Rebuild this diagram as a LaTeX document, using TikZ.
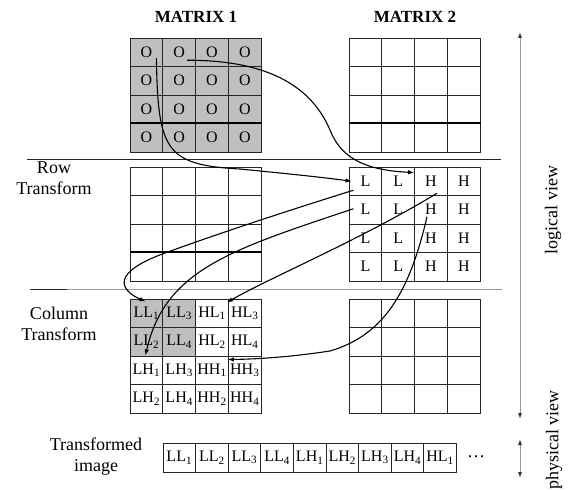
\documentclass[tikz,border=0pt]{standalone}
\usepackage{fontspec}
\setmainfont{Liberation Serif}
\usetikzlibrary{arrows.meta, positioning, calc}

\begin{document}
\begin{tikzpicture}[x=1pt, y=-1pt,
    cell/.style={draw=black!85, line width=0.9pt, minimum width=32.8pt, minimum height=28.5pt, inner sep=0pt, font=\fontsize{16}{16}\selectfont},
    dark/.style={cell, fill=black!25},
    slot/.style={cell, minimum width=32.6pt, minimum height=29pt},
    lbl/.style={align=center, font=\fontsize{18}{21}\selectfont},
    title/.style={font=\fontsize{17}{20}\selectfont\bfseries},
    flow/.style={-{Latex[length=6pt,width=4.5pt]}, line width=1.1pt},
    axis/.style={{Latex[length=6pt,width=4pt,color=black!80]}-{Latex[length=6pt,width=4pt,color=black!80]}, draw=black!40, line width=1pt}]
    \useasboundingbox (0,0) rectangle (573,492);

    % titles
    \node[title] (t1) at (196,17) {MATRIX 1};
    \node[title] (t2) at (415,17) {MATRIX 2};

    % the four empty / O grids
    \foreach \r in {1,...,4}
      \foreach \c in {1,...,4} {
        \node[dark] (tA-\r-\c) at ({146.4+32.8*(\c-1)}, {52.25+28.5*(\r-1)}) {O};
        \node[cell] (tB-\r-\c) at ({365.4+32.8*(\c-1)}, {52.25+28.5*(\r-1)}) {};
        \node[cell] (rA-\r-\c) at ({146.4+32.8*(\c-1)}, {181.25+28.5*(\r-1)}) {};
        \node[cell] (cB-\r-\c) at ({365.4+32.8*(\c-1)}, {313.25+28.5*(\r-1)}) {};
      }

    % row transform result
    \foreach \r in {1,...,4}
      \foreach \c/\t in {1/L, 2/L, 3/H, 4/H}
        \node[cell] (rB-\r-\c) at ({365.4+32.8*(\c-1)}, {181.25+28.5*(\r-1)}) {\t};

    % column transform result
    \foreach \r/\p/\q/\i/\j/\f in {1/LL/HL/1/3/black!25, 2/LL/HL/2/4/black!25, 3/LH/HH/1/3/white, 4/LH/HH/2/4/white} {
        \node[cell, fill=\f] (cA-\r-1) at (146.4, {313.25+28.5*(\r-1)}) {\p\textsubscript{\i}};
        \node[cell, fill=\f] (cA-\r-2) at (179.2, {313.25+28.5*(\r-1)}) {\p\textsubscript{\j}};
        \node[cell] (cA-\r-3) at (212.0, {313.25+28.5*(\r-1)}) {\q\textsubscript{\i}};
        \node[cell] (cA-\r-4) at (244.8, {313.25+28.5*(\r-1)}) {\q\textsubscript{\j}};
    }

    % thick row borders
    \draw[line width=2pt] (tA-4-1.north west) -- (tA-4-4.north east);
    \draw[line width=2pt] (tB-4-1.north west) -- (tB-4-4.north east);
    \draw[line width=2pt] (rA-4-1.north west) -- (rA-4-4.north east);

    % transformed image strip
    \foreach \p/\k [count=\i] in {LL/1, LL/2, LL/3, LL/4, LH/1, LH/2, LH/3, LH/4, HL/1}
        \node[slot] (s-\i) at ({179.3+32.6*(\i-1)}, 457.5) {\p\textsubscript{\k}};
    \node[lbl] (dots) at (476,457) {\dots};

    % separators
    \draw[black!85, line width=0.9pt] (27,159) -- (501,159);
    \draw[black!40, line width=1pt] (30,289) -- (502,289);
    \draw[black!85, line width=1pt] (30,289) -- (67,289);

    % side labels
    \node[lbl] (rowlbl) at (54,178) {Row\\Transform};
    \node[lbl] (collbl) at (59,324) {Column\\Transform};
    \node[lbl] (imglbl) at (96,457) {Transformed\\image};

    % views
    \coordinate (lt) at (520,32);
    \coordinate (lb) at (520,419);
    \coordinate (pt) at (520,439);
    \coordinate (pb) at (520,478);
    \draw[axis] (lt) -- (lb);
    \draw[axis] (pt) -- (pb);
    \node[lbl, rotate=90] (logv) at (553,210) {logical view};
    \node[lbl, rotate=90] (physv) at (554,440) {physical view};

    % data movement
    \draw[flow] ([shift={(10,6)}]tA-1-1.center) .. controls (158,150) and (165,165) .. (240,169)
        .. controls (290,174) and (320,177) .. ([shift={(3,0)}]rB-1-1.west);
    \draw[flow] ([shift={(8,8)}]tA-1-2.center) .. controls (280,60) and (315,95) .. (330,130)
        .. controls (340,155) and (360,170) .. ([shift={(0,6)}]rB-1-3.north west);
    \draw[flow] ([shift={(-12,9)}]rB-1-1.center) .. controls (290,210) and (220,233) .. (165,253)
        .. controls (110,273) and (120,290) .. ([shift={(-1,3)}]cA-1-1.north);
    \draw[flow] ([shift={(-12,-1)}]rB-2-1.center) .. controls (230,250) and (165,270) .. ([shift={(-1,-1)}]cA-2-1.south);
    \draw[flow] ([shift={(6,12)}]rB-1-3.center) .. controls (360,240) and (265,280) .. ([shift={(-1,4)}]cA-1-4.north west);
    \draw[flow] ([shift={(-4,7)}]rB-2-3.center) .. controls (410,290) and (385,335) .. (330,351)
        .. controls (290,357) and (260,359) .. ([shift={(-1,4)}]cA-3-3.north east);
\end{tikzpicture}
\end{document}
